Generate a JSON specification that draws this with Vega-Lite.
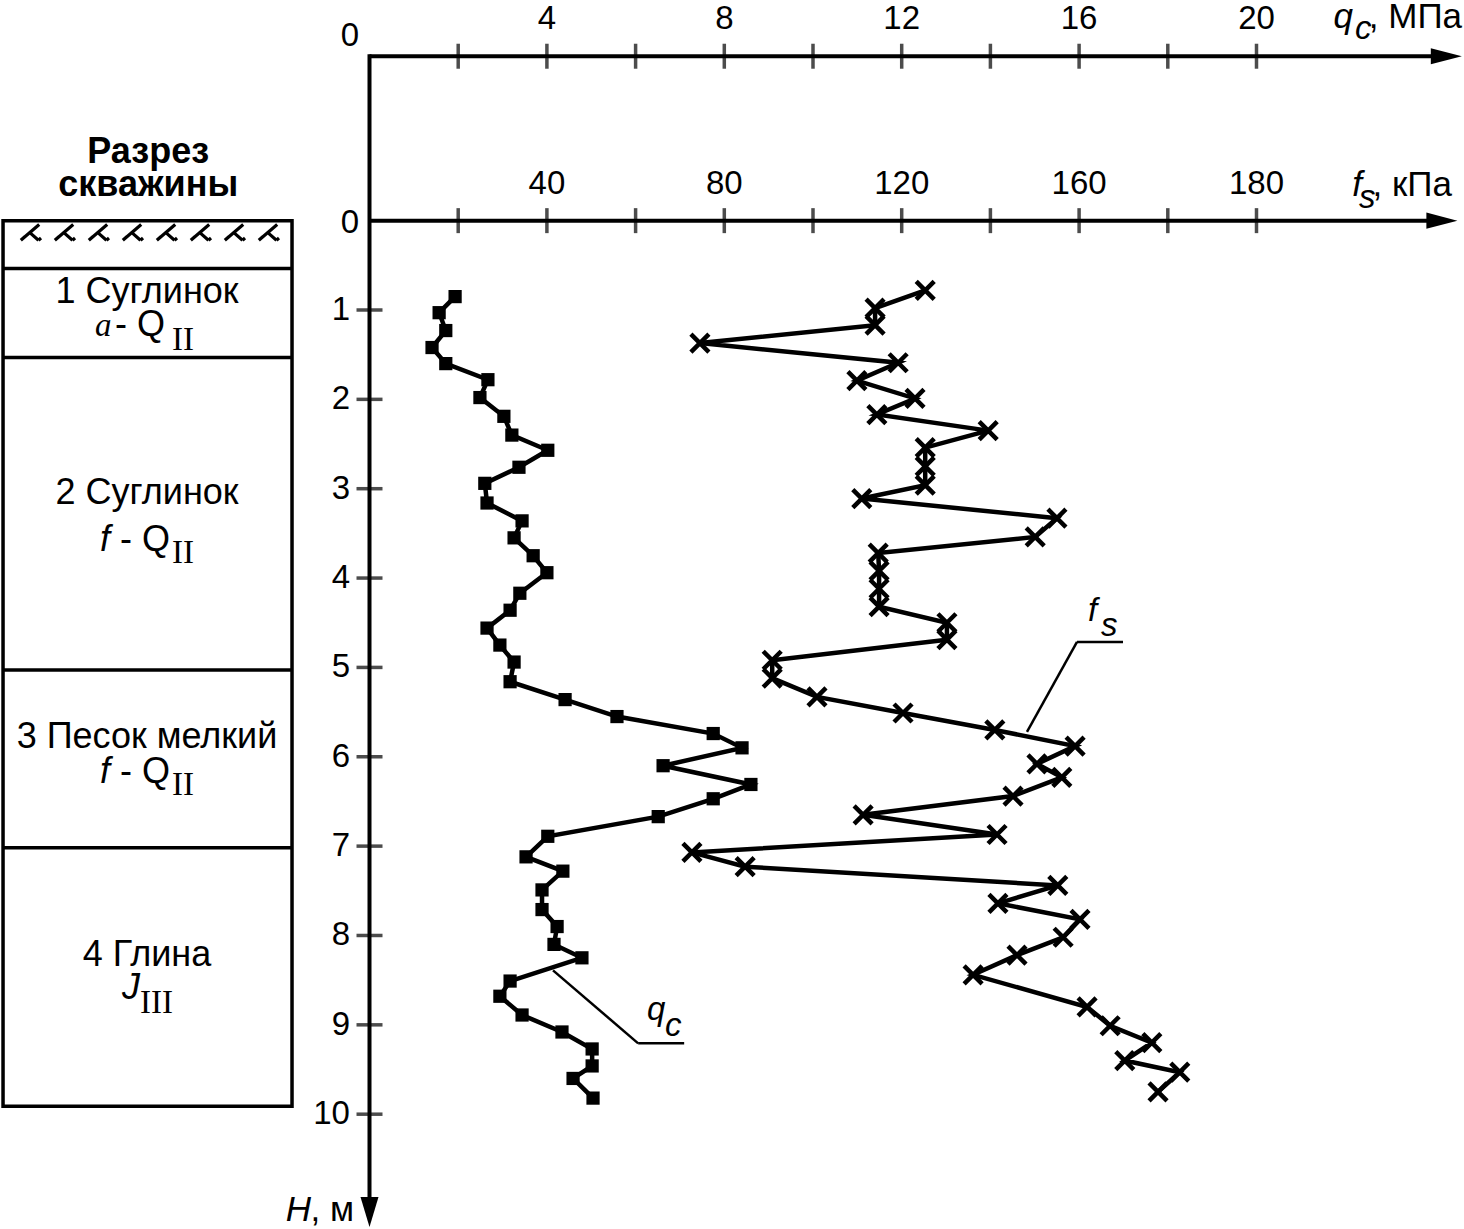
{
  "$schema": "https://vega.github.io/schema/vega-lite/v6.json",
  "width": 1464,
  "height": 1229,
  "autosize": {"type": "fit", "contains": "padding"},
  "padding": 0,
  "background": "white",
  "config": {
    "view": {"stroke": null},
    "text": {"font": "Liberation Sans", "fontSize": 33, "color": "black"},
    "rule": {"color": "black"},
    "tick": {"color": "black"},
    "point": {"color": "black", "opacity": 1}
  },
  "datasets": {
    "qc": [
      {"depth": 0.85, "qc": 1.93}, {"depth": 1.03, "qc": 1.57}, {"depth": 1.23, "qc": 1.72},
      {"depth": 1.42, "qc": 1.41}, {"depth": 1.60, "qc": 1.72}, {"depth": 1.78, "qc": 2.67},
      {"depth": 1.98, "qc": 2.49}, {"depth": 2.19, "qc": 3.03}, {"depth": 2.40, "qc": 3.21},
      {"depth": 2.57, "qc": 4.02}, {"depth": 2.76, "qc": 3.37}, {"depth": 2.94, "qc": 2.60},
      {"depth": 3.16, "qc": 2.65}, {"depth": 3.36, "qc": 3.44}, {"depth": 3.55, "qc": 3.26},
      {"depth": 3.75, "qc": 3.69}, {"depth": 3.94, "qc": 4.00}, {"depth": 4.17, "qc": 3.39},
      {"depth": 4.36, "qc": 3.17}, {"depth": 4.56, "qc": 2.65}, {"depth": 4.75, "qc": 2.94},
      {"depth": 4.94, "qc": 3.26}, {"depth": 5.16, "qc": 3.17}, {"depth": 5.36, "qc": 4.41},
      {"depth": 5.55, "qc": 5.58}, {"depth": 5.74, "qc": 7.75}, {"depth": 5.90, "qc": 8.40},
      {"depth": 6.10, "qc": 6.62}, {"depth": 6.31, "qc": 8.60}, {"depth": 6.47, "qc": 7.75},
      {"depth": 6.67, "qc": 6.51}, {"depth": 6.89, "qc": 4.02}, {"depth": 7.12, "qc": 3.53},
      {"depth": 7.28, "qc": 4.36}, {"depth": 7.49, "qc": 3.89}, {"depth": 7.71, "qc": 3.89},
      {"depth": 7.90, "qc": 4.23}, {"depth": 8.10, "qc": 4.16}, {"depth": 8.25, "qc": 4.79},
      {"depth": 8.51, "qc": 3.17}, {"depth": 8.68, "qc": 2.94}, {"depth": 8.89, "qc": 3.44},
      {"depth": 9.08, "qc": 4.34}, {"depth": 9.27, "qc": 5.02}, {"depth": 9.46, "qc": 5.02},
      {"depth": 9.60, "qc": 4.59}, {"depth": 9.82, "qc": 5.04}
    ],
    "fs": [
      {"depth": 0.78, "fs": 125.3}, {"depth": 0.98, "fs": 114.0}, {"depth": 1.17, "fs": 114.0},
      {"depth": 1.37, "fs": 74.5}, {"depth": 1.59, "fs": 119.2}, {"depth": 1.79, "fs": 109.9},
      {"depth": 1.99, "fs": 123.0}, {"depth": 2.17, "fs": 114.4}, {"depth": 2.35, "fs": 139.5},
      {"depth": 2.54, "fs": 125.3}, {"depth": 2.75, "fs": 125.3}, {"depth": 2.96, "fs": 125.3},
      {"depth": 3.11, "fs": 111.0}, {"depth": 3.33, "fs": 155.0}, {"depth": 3.54, "fs": 150.1},
      {"depth": 3.72, "fs": 114.7}, {"depth": 3.92, "fs": 114.9}, {"depth": 4.12, "fs": 114.9},
      {"depth": 4.32, "fs": 114.9}, {"depth": 4.50, "fs": 130.2}, {"depth": 4.69, "fs": 130.2},
      {"depth": 4.92, "fs": 90.8}, {"depth": 5.12, "fs": 90.8}, {"depth": 5.33, "fs": 100.9},
      {"depth": 5.51, "fs": 120.3}, {"depth": 5.70, "fs": 141.0}, {"depth": 5.88, "fs": 159.1},
      {"depth": 6.08, "fs": 150.5}, {"depth": 6.23, "fs": 156.1}, {"depth": 6.44, "fs": 145.1},
      {"depth": 6.65, "fs": 111.3}, {"depth": 6.87, "fs": 141.5}, {"depth": 7.07, "fs": 72.7},
      {"depth": 7.23, "fs": 84.7}, {"depth": 7.44, "fs": 155.2}, {"depth": 7.64, "fs": 141.7},
      {"depth": 7.82, "fs": 160.2}, {"depth": 8.02, "fs": 156.4}, {"depth": 8.22, "fs": 146.0},
      {"depth": 8.44, "fs": 136.1}, {"depth": 8.80, "fs": 161.8}, {"depth": 9.01, "fs": 167.0},
      {"depth": 9.20, "fs": 176.4}, {"depth": 9.40, "fs": 170.3}, {"depth": 9.53, "fs": 182.7},
      {"depth": 9.75, "fs": 177.8}
    ],
    "ticks": [
      {"v": 2}, {"v": 4}, {"v": 6}, {"v": 8}, {"v": 10},
      {"v": 12}, {"v": 14}, {"v": 16}, {"v": 18}, {"v": 20}
    ],
    "qcLabels": [
      {"v": 4, "t": "4"}, {"v": 8, "t": "8"}, {"v": 12, "t": "12"}, {"v": 16, "t": "16"}, {"v": 20, "t": "20"}
    ],
    "fsLabels": [
      {"v": 4, "t": "40"}, {"v": 8, "t": "80"}, {"v": 12, "t": "120"}, {"v": 16, "t": "160"}, {"v": 20, "t": "180"}
    ],
    "depthTicks": [
      {"d": 1}, {"d": 2}, {"d": 3}, {"d": 4}, {"d": 5},
      {"d": 6}, {"d": 7}, {"d": 8}, {"d": 9}, {"d": 10}
    ],
    "strata": [{"d": 0.536}, {"d": 1.531}, {"d": 5.028}, {"d": 7.017}],
    "hatch": [
      {"q": -7.610}, {"q": -6.843}, {"q": -6.077}, {"q": -5.310},
      {"q": -4.543}, {"q": -3.777}, {"q": -3.010}, {"q": -2.244}
    ],
    "leaders": [
      {"q": 4.138, "d": 8.391, "q2": 6.058, "d2": 9.207},
      {"q": 6.058, "d": 9.207, "q2": 7.095, "d2": 9.207},
      {"q": 14.825, "d": 5.721, "q2": 15.953, "d2": 4.715},
      {"q": 15.953, "d": 4.715, "q2": 16.99, "d2": 4.715}
    ],
    "notes": [
      {"s": "right", "t": "0", "q": -0.237, "d": -1.955},
      {"s": "right", "t": "0", "q": -0.237, "d": 0.134},
      {"s": "unit", "t": ", МПа", "q": 24.634, "d": -2.156},
      {"s": "unit", "t": ", кПа", "q": 24.408, "d": -0.279},
      {"s": "unit", "t": ", м", "q": -0.349, "d": 11.196},
      {"s": "italR", "t": "q", "q": 22.175, "d": -2.156},
      {"s": "italR", "t": "f", "q": 22.378, "d": -0.279},
      {"s": "italR", "t": "H", "q": -1.319, "d": 11.196},
      {"s": "italL", "t": "c", "q": 22.221, "d": -2.034},
      {"s": "italL", "t": "s", "q": 22.311, "d": -0.145},
      {"s": "italB", "t": "f", "q": -6.077, "d": 3.698},
      {"s": "italB", "t": "f", "q": -6.077, "d": 6.291},
      {"s": "italB", "t": "J", "q": -5.581, "d": 8.715},
      {"s": "italL", "t": "q", "q": 6.257, "d": 8.950},
      {"s": "italL", "t": "c", "q": 6.663, "d": 9.128},
      {"s": "italL", "t": "f", "q": 16.2, "d": 4.48},
      {"s": "italL", "t": "s", "q": 16.494, "d": 4.648},
      {"s": "left", "t": "- Q", "q": -5.738, "d": 1.296},
      {"s": "left", "t": "- Q", "q": -5.626, "d": 3.698},
      {"s": "left", "t": "- Q", "q": -5.626, "d": 6.291},
      {"s": "serifI", "t": "a", "q": -6.189, "d": 1.296},
      {"s": "serif", "t": "II", "q": -4.453, "d": 1.453},
      {"s": "serif", "t": "II", "q": -4.453, "d": 3.832},
      {"s": "serif", "t": "II", "q": -4.453, "d": 6.425},
      {"s": "serif", "t": "III", "q": -5.175, "d": 8.872},
      {"s": "center", "t": "1 Суглинок", "q": -5.017, "d": 0.927},
      {"s": "center", "t": "2 Суглинок", "q": -5.017, "d": 3.173},
      {"s": "center", "t": "3 Песок мелкий", "q": -5.017, "d": 5.899},
      {"s": "center", "t": "4 Глина", "q": -5.017, "d": 8.346},
      {"s": "bold", "t": "Разрез", "q": -4.99, "d": -0.648},
      {"s": "bold", "t": "скважины", "q": -4.99, "d": -0.279}
    ]
  },
  "resolve": {"scale": {"x": "independent"}},
  "layer": [
    {
      "layer": [
        {
          "data": {"values": [{}]},
          "mark": {"type": "rect", "fillOpacity": 0, "stroke": "black", "strokeWidth": 3.5},
          "encoding": {
            "x": {"datum": -8.263, "type": "quantitative", "scale": {"domain": [-8.3315, 24.6787], "nice": false, "zero": false}, "axis": null},
            "x2": {"datum": -1.747},
            "y": {"datum": 0, "type": "quantitative", "scale": {"domain": [-2.4581, 11.2737], "reverse": true, "nice": false, "zero": false}, "axis": null},
            "y2": {"datum": 9.911}
          }
        },
        {
          "data": {"name": "strata"},
          "mark": {"type": "rule", "strokeWidth": 3.5},
          "encoding": {
            "x": {"datum": -8.263, "type": "quantitative", "scale": {"domain": [-8.3315, 24.6787], "nice": false, "zero": false}, "axis": null},
            "x2": {"datum": -1.747},
            "y": {"field": "d", "type": "quantitative", "scale": {"domain": [-2.4581, 11.2737], "reverse": true, "nice": false, "zero": false}, "axis": null}
          }
        },
        {
          "data": {"name": "hatch"},
          "mark": {"type": "point", "shape": "M-0.62,0.42L0.4,-0.45M-0.12,0L0.36,0.42M-0.62,0.42L-0.4,0.22M0.36,0.42L0.5,0.3", "filled": false, "strokeWidth": 3.2, "size": 1300},
          "encoding": {
            "x": {"field": "q", "type": "quantitative", "scale": {"domain": [-8.3315, 24.6787], "nice": false, "zero": false}, "axis": null},
            "y": {"datum": 0.134, "type": "quantitative", "scale": {"domain": [-2.4581, 11.2737], "reverse": true, "nice": false, "zero": false}, "axis": null}
          }
        },
        {
          "data": {"values": [{}]},
          "mark": {"type": "rule", "strokeWidth": 4},
          "encoding": {
            "x": {"datum": 0, "type": "quantitative", "scale": {"domain": [-8.3315, 24.6787], "nice": false, "zero": false}, "axis": null},
            "x2": {"datum": 24.1},
            "y": {"datum": -1.84, "type": "quantitative", "scale": {"domain": [-2.4581, 11.2737], "reverse": true, "nice": false, "zero": false}, "axis": null}
          }
        },
        {
          "data": {"values": [{}]},
          "mark": {"type": "rule", "strokeWidth": 4},
          "encoding": {
            "x": {"datum": 0, "type": "quantitative", "scale": {"domain": [-8.3315, 24.6787], "nice": false, "zero": false}, "axis": null},
            "x2": {"datum": 24.0},
            "y": {"datum": 0, "type": "quantitative", "scale": {"domain": [-2.4581, 11.2737], "reverse": true, "nice": false, "zero": false}, "axis": null}
          }
        },
        {
          "data": {"values": [{}]},
          "mark": {"type": "rule", "strokeWidth": 4},
          "encoding": {
            "x": {"datum": 0, "type": "quantitative", "scale": {"domain": [-8.3315, 24.6787], "nice": false, "zero": false}, "axis": null},
            "y": {"datum": -1.862, "type": "quantitative", "scale": {"domain": [-2.4581, 11.2737], "reverse": true, "nice": false, "zero": false}, "axis": null},
            "y2": {"datum": 11.0}
          }
        },
        {
          "data": {"values": [{"q": 24.28, "d": -1.84}, {"q": 24.18, "d": 0}]},
          "mark": {"type": "point", "shape": "M1,0L-1,-0.52L-1,0.52Z", "filled": true, "size": 961},
          "encoding": {
            "x": {"field": "q", "type": "quantitative", "scale": {"domain": [-8.3315, 24.6787], "nice": false, "zero": false}, "axis": null},
            "y": {"field": "d", "type": "quantitative", "scale": {"domain": [-2.4581, 11.2737], "reverse": true, "nice": false, "zero": false}, "axis": null}
          }
        },
        {
          "data": {"values": [{}]},
          "mark": {"type": "point", "shape": "M0,1L-0.6,-1L0.6,-1Z", "filled": true, "size": 900},
          "encoding": {
            "x": {"datum": 0, "type": "quantitative", "scale": {"domain": [-8.3315, 24.6787], "nice": false, "zero": false}, "axis": null},
            "y": {"datum": 11.095, "type": "quantitative", "scale": {"domain": [-2.4581, 11.2737], "reverse": true, "nice": false, "zero": false}, "axis": null}
          }
        },
        {
          "data": {"name": "ticks"},
          "mark": {"type": "tick", "orient": "vertical", "size": 25, "thickness": 3.5},
          "encoding": {
            "x": {"field": "v", "type": "quantitative", "scale": {"domain": [-8.3315, 24.6787], "nice": false, "zero": false}, "axis": null},
            "y": {"datum": -1.84, "type": "quantitative", "scale": {"domain": [-2.4581, 11.2737], "reverse": true, "nice": false, "zero": false}, "axis": null}
          }
        },
        {
          "data": {"name": "ticks"},
          "mark": {"type": "tick", "orient": "vertical", "size": 25, "thickness": 3.5},
          "encoding": {
            "x": {"field": "v", "type": "quantitative", "scale": {"domain": [-8.3315, 24.6787], "nice": false, "zero": false}, "axis": null},
            "y": {"datum": 0, "type": "quantitative", "scale": {"domain": [-2.4581, 11.2737], "reverse": true, "nice": false, "zero": false}, "axis": null}
          }
        },
        {
          "data": {"name": "depthTicks"},
          "mark": {"type": "tick", "orient": "horizontal", "size": 26, "thickness": 3.5},
          "encoding": {
            "x": {"datum": 0, "type": "quantitative", "scale": {"domain": [-8.3315, 24.6787], "nice": false, "zero": false}, "axis": null},
            "y": {"field": "d", "type": "quantitative", "scale": {"domain": [-2.4581, 11.2737], "reverse": true, "nice": false, "zero": false}, "axis": null}
          }
        },
        {
          "data": {"name": "qcLabels"},
          "mark": {"type": "text", "align": "center", "baseline": "middle"},
          "encoding": {
            "x": {"field": "v", "type": "quantitative", "scale": {"domain": [-8.3315, 24.6787], "nice": false, "zero": false}, "axis": null},
            "y": {"datum": -2.262, "type": "quantitative", "scale": {"domain": [-2.4581, 11.2737], "reverse": true, "nice": false, "zero": false}, "axis": null},
            "text": {"field": "t"}
          }
        },
        {
          "data": {"name": "fsLabels"},
          "mark": {"type": "text", "align": "center", "baseline": "middle"},
          "encoding": {
            "x": {"field": "v", "type": "quantitative", "scale": {"domain": [-8.3315, 24.6787], "nice": false, "zero": false}, "axis": null},
            "y": {"datum": -0.413, "type": "quantitative", "scale": {"domain": [-2.4581, 11.2737], "reverse": true, "nice": false, "zero": false}, "axis": null},
            "text": {"field": "t"}
          }
        },
        {
          "data": {"name": "depthTicks"},
          "mark": {"type": "text", "align": "right", "baseline": "middle"},
          "encoding": {
            "x": {"datum": -0.44, "type": "quantitative", "scale": {"domain": [-8.3315, 24.6787], "nice": false, "zero": false}, "axis": null},
            "y": {"field": "d", "type": "quantitative", "scale": {"domain": [-2.4581, 11.2737], "reverse": true, "nice": false, "zero": false}, "axis": null},
            "text": {"field": "d"}
          }
        },
        {
          "data": {"name": "leaders"},
          "mark": {"type": "rule", "strokeWidth": 2.5},
          "encoding": {
            "x": {"field": "q", "type": "quantitative", "scale": {"domain": [-8.3315, 24.6787], "nice": false, "zero": false}, "axis": null},
            "x2": {"field": "q2"},
            "y": {"field": "d", "type": "quantitative", "scale": {"domain": [-2.4581, 11.2737], "reverse": true, "nice": false, "zero": false}, "axis": null},
            "y2": {"field": "d2"}
          }
        },
        {
          "data": {"name": "qc"},
          "mark": {"type": "line", "strokeWidth": 4.5, "color": "black"},
          "encoding": {
            "x": {"field": "qc", "type": "quantitative", "scale": {"domain": [-8.3315, 24.6787], "nice": false, "zero": false}, "axis": null},
            "y": {"field": "depth", "type": "quantitative", "scale": {"domain": [-2.4581, 11.2737], "reverse": true, "nice": false, "zero": false}, "axis": null},
            "order": {"field": "depth", "type": "quantitative"}
          }
        },
        {
          "data": {"name": "qc"},
          "mark": {"type": "point", "shape": "square", "filled": true, "size": 175},
          "encoding": {
            "x": {"field": "qc", "type": "quantitative", "scale": {"domain": [-8.3315, 24.6787], "nice": false, "zero": false}, "axis": null},
            "y": {"field": "depth", "type": "quantitative", "scale": {"domain": [-2.4581, 11.2737], "reverse": true, "nice": false, "zero": false}, "axis": null}
          }
        },
        {
          "data": {"name": "notes"},
          "transform": [{"filter": "datum.s == 'right'"}],
          "mark": {"type": "text", "align": "right", "baseline": "alphabetic"},
          "encoding": {
            "x": {"field": "q", "type": "quantitative", "scale": {"domain": [-8.3315, 24.6787], "nice": false, "zero": false}, "axis": null},
            "y": {"field": "d", "type": "quantitative", "scale": {"domain": [-2.4581, 11.2737], "reverse": true, "nice": false, "zero": false}, "axis": null},
            "text": {"field": "t"}
          }
        },
        {
          "data": {"name": "notes"},
          "transform": [{"filter": "datum.s == 'unit'"}],
          "mark": {"type": "text", "align": "right", "baseline": "alphabetic", "fontSize": 35},
          "encoding": {
            "x": {"field": "q", "type": "quantitative", "scale": {"domain": [-8.3315, 24.6787], "nice": false, "zero": false}, "axis": null},
            "y": {"field": "d", "type": "quantitative", "scale": {"domain": [-2.4581, 11.2737], "reverse": true, "nice": false, "zero": false}, "axis": null},
            "text": {"field": "t"}
          }
        },
        {
          "data": {"name": "notes"},
          "transform": [{"filter": "datum.s == 'italR'"}],
          "mark": {"type": "text", "align": "right", "baseline": "alphabetic", "fontStyle": "italic", "fontSize": 35},
          "encoding": {
            "x": {"field": "q", "type": "quantitative", "scale": {"domain": [-8.3315, 24.6787], "nice": false, "zero": false}, "axis": null},
            "y": {"field": "d", "type": "quantitative", "scale": {"domain": [-2.4581, 11.2737], "reverse": true, "nice": false, "zero": false}, "axis": null},
            "text": {"field": "t"}
          }
        },
        {
          "data": {"name": "notes"},
          "transform": [{"filter": "datum.s == 'italL'"}],
          "mark": {"type": "text", "align": "left", "baseline": "alphabetic", "fontStyle": "italic"},
          "encoding": {
            "x": {"field": "q", "type": "quantitative", "scale": {"domain": [-8.3315, 24.6787], "nice": false, "zero": false}, "axis": null},
            "y": {"field": "d", "type": "quantitative", "scale": {"domain": [-2.4581, 11.2737], "reverse": true, "nice": false, "zero": false}, "axis": null},
            "text": {"field": "t"}
          }
        },
        {
          "data": {"name": "notes"},
          "transform": [{"filter": "datum.s == 'italB'"}],
          "mark": {"type": "text", "align": "left", "baseline": "alphabetic", "fontStyle": "italic", "fontSize": 36},
          "encoding": {
            "x": {"field": "q", "type": "quantitative", "scale": {"domain": [-8.3315, 24.6787], "nice": false, "zero": false}, "axis": null},
            "y": {"field": "d", "type": "quantitative", "scale": {"domain": [-2.4581, 11.2737], "reverse": true, "nice": false, "zero": false}, "axis": null},
            "text": {"field": "t"}
          }
        },
        {
          "data": {"name": "notes"},
          "transform": [{"filter": "datum.s == 'left'"}],
          "mark": {"type": "text", "align": "left", "baseline": "alphabetic", "fontSize": 36},
          "encoding": {
            "x": {"field": "q", "type": "quantitative", "scale": {"domain": [-8.3315, 24.6787], "nice": false, "zero": false}, "axis": null},
            "y": {"field": "d", "type": "quantitative", "scale": {"domain": [-2.4581, 11.2737], "reverse": true, "nice": false, "zero": false}, "axis": null},
            "text": {"field": "t"}
          }
        },
        {
          "data": {"name": "notes"},
          "transform": [{"filter": "datum.s == 'serifI'"}],
          "mark": {"type": "text", "align": "left", "baseline": "alphabetic", "font": "Liberation Serif", "fontStyle": "italic", "fontSize": 33},
          "encoding": {
            "x": {"field": "q", "type": "quantitative", "scale": {"domain": [-8.3315, 24.6787], "nice": false, "zero": false}, "axis": null},
            "y": {"field": "d", "type": "quantitative", "scale": {"domain": [-2.4581, 11.2737], "reverse": true, "nice": false, "zero": false}, "axis": null},
            "text": {"field": "t"}
          }
        },
        {
          "data": {"name": "notes"},
          "transform": [{"filter": "datum.s == 'serif'"}],
          "mark": {"type": "text", "align": "left", "baseline": "alphabetic", "font": "Liberation Serif", "fontSize": 33},
          "encoding": {
            "x": {"field": "q", "type": "quantitative", "scale": {"domain": [-8.3315, 24.6787], "nice": false, "zero": false}, "axis": null},
            "y": {"field": "d", "type": "quantitative", "scale": {"domain": [-2.4581, 11.2737], "reverse": true, "nice": false, "zero": false}, "axis": null},
            "text": {"field": "t"}
          }
        },
        {
          "data": {"name": "notes"},
          "transform": [{"filter": "datum.s == 'center'"}],
          "mark": {"type": "text", "align": "center", "baseline": "alphabetic", "fontSize": 36},
          "encoding": {
            "x": {"field": "q", "type": "quantitative", "scale": {"domain": [-8.3315, 24.6787], "nice": false, "zero": false}, "axis": null},
            "y": {"field": "d", "type": "quantitative", "scale": {"domain": [-2.4581, 11.2737], "reverse": true, "nice": false, "zero": false}, "axis": null},
            "text": {"field": "t"}
          }
        },
        {
          "data": {"name": "notes"},
          "transform": [{"filter": "datum.s == 'bold'"}],
          "mark": {"type": "text", "align": "center", "baseline": "alphabetic", "fontWeight": "bold", "fontSize": 36},
          "encoding": {
            "x": {"field": "q", "type": "quantitative", "scale": {"domain": [-8.3315, 24.6787], "nice": false, "zero": false}, "axis": null},
            "y": {"field": "d", "type": "quantitative", "scale": {"domain": [-2.4581, 11.2737], "reverse": true, "nice": false, "zero": false}, "axis": null},
            "text": {"field": "t"}
          }
        }
      ]
    },
    {
      "layer": [
        {
          "data": {"name": "fs"},
          "mark": {"type": "line", "strokeWidth": 4.5, "color": "black"},
          "encoding": {
            "x": {"field": "fs", "type": "quantitative", "scale": {"domain": [-83.315, 246.787], "nice": false, "zero": false}, "axis": null},
            "y": {"field": "depth", "type": "quantitative", "scale": {"domain": [-2.4581, 11.2737], "reverse": true, "nice": false, "zero": false}, "axis": null},
            "order": {"field": "depth", "type": "quantitative"}
          }
        },
        {
          "data": {"name": "fs"},
          "mark": {"type": "point", "shape": "M-1,-1L1,1M-1,1L1,-1", "filled": false, "strokeWidth": 4.5, "size": 324},
          "encoding": {
            "x": {"field": "fs", "type": "quantitative", "scale": {"domain": [-83.315, 246.787], "nice": false, "zero": false}, "axis": null},
            "y": {"field": "depth", "type": "quantitative", "scale": {"domain": [-2.4581, 11.2737], "reverse": true, "nice": false, "zero": false}, "axis": null}
          }
        }
      ]
    }
  ]
}
